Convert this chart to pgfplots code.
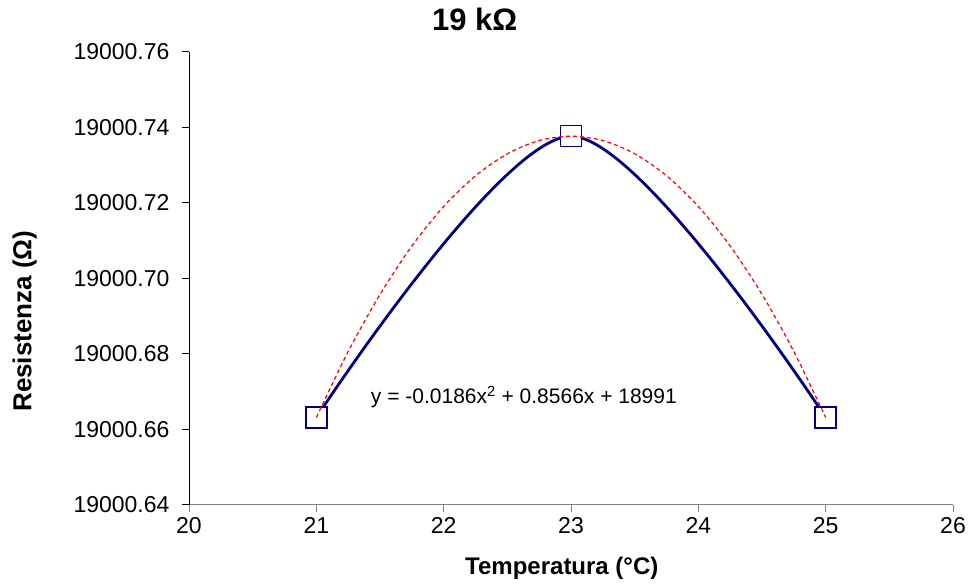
\documentclass[border=0pt]{standalone}
\usepackage{pgfplots}
\pgfplotsset{compat=1.18}
\usepackage{fontspec}
\setmainfont{Liberation Sans}
\definecolor{navy}{RGB}{0,0,128}
\definecolor{axgray}{RGB}{128,128,128}
% y values are stored as (Resistance - 19000) Ohm to keep full precision
\pgfplotsset{samebox/.style={at={(189pt,80pt)}, anchor=south west,
  scale only axis, width=764pt, height=453pt,
  xmin=20, xmax=26, ymin=0.64, ymax=0.76}}
\begin{document}
\begin{tikzpicture}[x=1pt,y=1pt]
\path[use as bounding box] (0,0) rectangle (968,585);
\begin{axis}[
  samebox,
  xtick={20,21,22,23,24,25,26},
  ytick={0.64,0.66,0.68,0.70,0.72,0.74,0.76},
  yticklabels={19000.64,19000.66,19000.68,19000.70,19000.72,19000.74,19000.76},
  axis x line=bottom, axis y line=left,
  axis line style={-},
  x axis line style={axgray, line width=1pt},
  y axis line style={black, line width=1pt},
  tick align=outside, major tick length=7pt,
  xtick style={axgray, line width=1pt},
  ytick style={black, line width=1pt},
  tick label style={font=\fontsize{23}{27}\selectfont},
  /pgf/number format/assume math mode=true,
  xticklabel style={yshift=-2pt},
  yticklabel style={xshift=-9pt},
  xlabel={\bfseries Temperatura (°C)},
  ylabel={\bfseries Resistenza (Ω)},
  xlabel style={font=\fontsize{24}{28}\selectfont, at={(axis description cs:0.488,-0.139)}, anchor=center},
  ylabel style={font=\fontsize{26}{30}\selectfont, at={(axis description cs:-0.215,0.406)}, anchor=center, rotate=0},
  title={\bfseries 19 kΩ},
  title style={font=\fontsize{31}{36}\selectfont, at={(axis description cs:0.374,1.0596)}, anchor=center},
  clip=false,
]
\addplot[navy, line width=2.8pt, smooth, tension=0.5,
  mark=square*, mark size=10.5pt,
  mark options={solid, fill=white, draw=navy, line width=1.4pt}]
  coordinates {(21,0.6632) (23,0.7377) (25,0.6632)};
\node[font=\fontsize{21}{25}\selectfont, anchor=center] at (axis cs:22.63,0.6686)
  {y = -0.0186x\textsuperscript{2} + 0.8566x + 18991};
\end{axis}
% trendline drawn on top of the markers, in an identical hidden axis
\begin{axis}[samebox, hide axis, clip=false]
\addplot[red, line width=1.2pt, dash pattern=on 4pt off 3pt, smooth]
  coordinates {
  (21,0.66320) (21.25,0.68066) (21.5,0.69579) (21.75,0.70860)
  (22,0.71908) (22.25,0.72722) (22.5,0.73304) (22.75,0.73654)
  (23,0.73770) (23.25,0.73654) (23.5,0.73304) (23.75,0.72722)
  (24,0.71908) (24.25,0.70860) (24.5,0.69579) (24.75,0.68066)
  (25,0.66320)};
\end{axis}
\end{tikzpicture}
\end{document}
